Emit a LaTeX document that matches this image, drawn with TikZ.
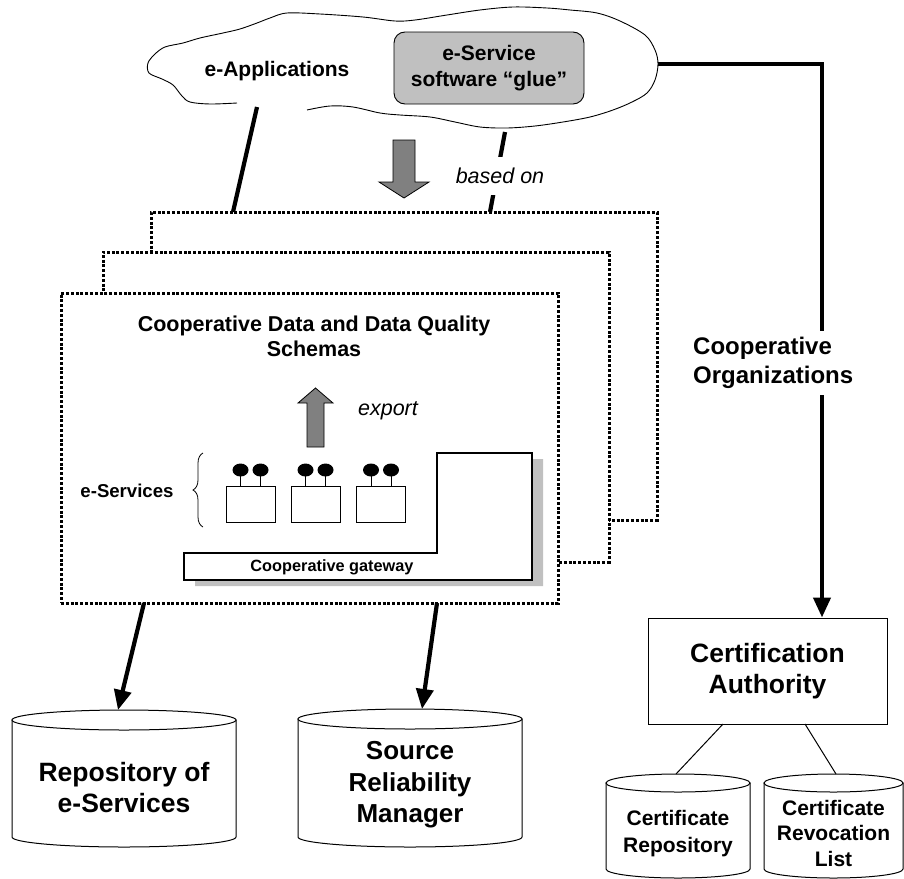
\documentclass[tikz,border=0pt]{standalone}
\usepackage{fontspec}
\setmainfont{Liberation Sans}
\usetikzlibrary{arrows.meta,decorations.pathreplacing}
\definecolor{lightgrey}{RGB}{192,192,192}
\definecolor{midgrey}{RGB}{128,128,128}

% cylinder: #1 centre x, #2 top y, #3 half width, #4 ellipse radius, #5 bottom y
\newcommand{\drumshape}[5]{%
  \draw[thinline, fill=white] (#1-#3,#2) -- (#1-#3,#5)
    arc[start angle=180, end angle=360, x radius=#3pt, y radius=#4pt]
    -- (#1+#3,#2) -- cycle;
  \draw[thinline, fill=white] (#1,#2) ellipse [x radius=#3pt, y radius=#4pt];
}

\begin{document}
\begin{tikzpicture}[x=1pt,y=-1pt,
  dotbox/.style={draw, fill=white, line width=3pt, dash pattern=on 3pt off 1.8pt,
                 inner sep=0pt},
  conn/.style={line width=4.2pt},
  connarrow/.style={line width=4.2pt, -{Triangle[length=20pt,width=17pt]}},
  thinline/.style={line width=1pt},
  lbl/.style={font=\bfseries\fontsize{21}{26}\selectfont, align=center, inner sep=0pt},
  biglbl/.style={font=\bfseries\fontsize{26.5}{31}\selectfont, align=center, inner sep=0pt},
  itlbl/.style={font=\itshape\fontsize{21.5}{26}\selectfont, inner sep=0pt},
  svcbox/.style={draw, line width=1pt, minimum width=49pt, minimum height=36pt, inner sep=0pt},
  greyarrow/.style={draw, line width=0.8pt, fill=midgrey},
]
\useasboundingbox (0,0) rectangle (904,878);

% stacked organisation frames, back to front
\node[dotbox, minimum width=506pt, minimum height=308pt] (backbox) at (404,366) {};
\node[dotbox, minimum width=506pt, minimum height=310pt] (midbox) at (356,407) {};
\node[dotbox, minimum width=497pt, minimum height=310pt] (frontbox) at (309.5,448) {};

% cloud of e-applications (open at the lower left)
\draw[line width=0.9pt] plot[smooth, tension=0.55] coordinates {
  (307,110) (330,106) (353,107) (380,113) (400,115) (430,117) (455,122) (480,127)
  (507,128) (535,126) (563,122) (590,117) (613,110) (632,102) (647,93) (655,80)
  (658,64) (655,50) (645,35) (620,21) (597,13) (570,10) (547,8) (513,7) (480,10)
  (447,15) (415,20) (395,21) (363,17) (320,14) (287,13) (270,18) (257,23) (240,29)
  (223,33) (200,38) (183,43) (165,47) (155,54) (148,63) (149,73) (162,79) (173,85)
  (182,96) (190,102) (210,104) (237,103)};

\node[draw, line width=0.9pt, fill=lightgrey, rounded corners=11pt,
      minimum width=190pt, minimum height=72pt, lbl] (glue) at (489,68)
      {e-Service\\software “glue”};
\node[lbl] (eapps) at (277,71) {e-Applications};

% links from the cloud to the organisations
\coordinate (appFoot) at (257,107);
\coordinate (appTop) at (233,212);
\coordinate (glueFoot) at (505,132);
\coordinate (glueTop) at (490,212);
\draw[conn] (appFoot) -- (appTop);
\draw[conn] (glueFoot) -- (glueTop);
\node[itlbl, fill=white, minimum height=38pt, inner xsep=3pt] (basedon) at (500,176) {based on};

% grey "down" arrow
\draw[greyarrow] (393,140) -- (415,140) -- (415,182) -- (429,182) -- (404,198)
  -- (379,182) -- (393,182) -- cycle;

% contents of the front frame
\node[lbl, font=\bfseries\fontsize{21.5}{25}\selectfont] (schemas) at (314,336)
  {Cooperative Data and Data Quality\\Schemas};

\draw[greyarrow] (307,447) -- (324,447) -- (324,403) -- (333,403) -- (315.5,388)
  -- (298,403) -- (307,403) -- cycle;
\node[itlbl] (export) at (388,411) {export};

\node[lbl, font=\bfseries\fontsize{18.6}{22}\selectfont] (eserv) at (127,491) {e-Services};
\draw[line width=0.8pt, decorate, decoration={brace, amplitude=10pt}] (203,527) -- (203,453);

\foreach \i/\cx in {1/250.5, 2/315.5, 3/381} {
  \node[svcbox] (svc\i) at (\cx,504) {};
  \foreach \d in {-10,10} {
    \draw[line width=1pt] (\cx+\d,486) -- (\cx+\d,474);
    \fill (\cx+\d,470) ellipse [x radius=8pt, y radius=6.5pt];
  }
}

% cooperative gateway with its drop shadow
\fill[lightgrey] (195,559) -- (448,559) -- (448,459) -- (543,459) -- (543,586)
  -- (195,586) -- cycle;
\draw[line width=1.5pt, fill=white] (184,553) -- (437,553) -- (437,453) -- (532,453)
  -- (532,580) -- (184,580) -- cycle;
\node[lbl, font=\bfseries\fontsize{16.3}{20}\selectfont] (gateway) at (332,567) {Cooperative gateway};

% repositories below the organisations
\drumshape{124}{720}{112}{10}{837}
\drumshape{410}{719}{112}{10}{837}
\node[biglbl] (repo) at (124,788) {Repository of\\e-Services};
\node[biglbl, font=\bfseries\fontsize{26}{31.5}\selectfont] (srm) at (410,785) {Source\\Reliability\\Manager};
\coordinate (repoTop) at (118,710);
\coordinate (srmTop) at (422,709);
\coordinate (frontA) at (144,603);
\coordinate (frontB) at (437,603);
\draw[connarrow] (frontA) -- (repoTop);
\draw[connarrow] (frontB) -- (srmTop);

% certification authority
\node[draw, line width=1pt, minimum width=239pt, minimum height=106pt, biglbl]
  (ca) at (767.5,671) {Certification\\Authority};

\coordinate (cloudRight) at (658,64);
\coordinate (corner) at (822,64);
\draw[connarrow] (cloudRight) -- (corner) -- (corner |- ca.north);
\node[font=\bfseries\fontsize{24}{29}\selectfont, align=left, fill=white,
      inner xsep=0pt, inner ysep=6pt, anchor=west] (coop) at (693,363)
      {Cooperative\\Organizations};

\drumshape{678}{783}{72}{9}{869}
\drumshape{833.5}{783}{69.5}{9}{869}
\node[lbl, font=\bfseries\fontsize{21}{27}\selectfont] (certrepo) at (678,834) {Certificate\\Repository};
\node[lbl, font=\bfseries\fontsize{21}{25.5}\selectfont] (crl) at (833.5,833) {Certificate\\Revocation\\List};
\coordinate (caL) at (723,724);
\coordinate (caR) at (805,724);
\coordinate (certTop) at (676,774);
\coordinate (crlTop) at (836,774);
\draw[thinline] (caL) -- (certTop);
\draw[thinline] (caR) -- (crlTop);
\end{tikzpicture}
\end{document}
